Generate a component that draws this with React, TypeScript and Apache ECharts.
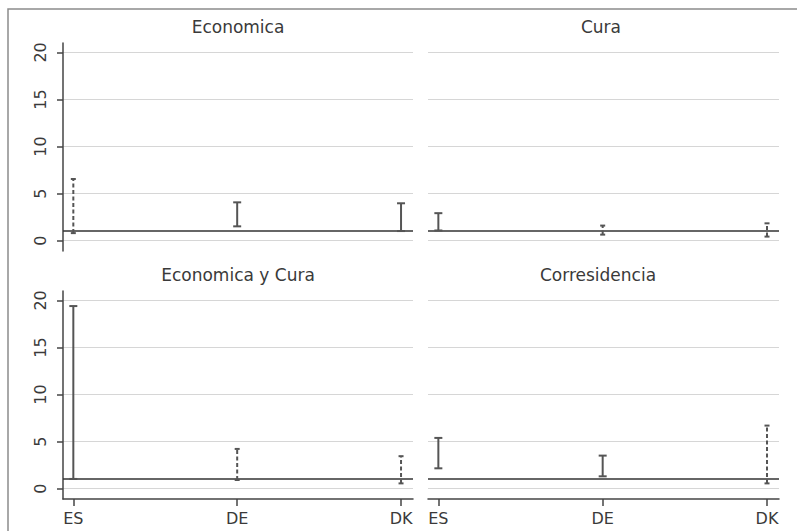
import React, { useEffect, useRef } from "react";
import * as echarts from "echarts";

// ---- data ----
const countries = ["ES", "DE", "DK"];
const yTicks = [0, 5, 10, 15, 20];
const referenceValue = 1;

const panelTitles = ["Economica", "Cura", "Economica y Cura", "Corresidencia"];

const economicaLow = [0.8, 1.52, 1.02];
const economicaHigh = [6.55, 4.07, 3.97];

const curaLow = [1.08, 0.64, 0.43];
const curaHigh = [2.92, 1.6, 1.84];

const ecoCuraLow = [1.03, 0.92, 0.56];
const ecoCuraHigh = [19.4, 4.22, 3.45];

const corrLow = [2.16, 1.31, 0.56];
const corrHigh = [5.39, 3.51, 6.7];

const panelLows = [economicaLow, curaLow, ecoCuraLow, corrLow];
const panelHighs = [economicaHigh, curaHigh, ecoCuraHigh, corrHigh];

const FONT = "DejaVu Sans";
const INK = "#3a3a3a";
const BAR = "#555555";

export default function App() {
  const ref = useRef<HTMLDivElement>(null);

  useEffect(() => {
    if (!ref.current) return;
    const chart = echarts.init(ref.current, undefined, { renderer: "svg" });

    const grids = [
      { left: 63, top: 43, width: 350, height: 208 },
      { left: 428, top: 43, width: 351, height: 208 },
      { left: 63, top: 291, width: 350, height: 208 },
      { left: 428, top: 291, width: 351, height: 208 },
    ];

    const catIdx = countries.map((_, i) => i);

    const xAxes = grids.map((_, i) => {
      const bottom = i >= 2;
      return {
        type: "value",
        gridIndex: i,
        min: -0.063,
        max: 2.073,
        show: true,
        axisLine: { show: bottom, onZero: false, lineStyle: { color: "#444", width: 1.5 } },
        axisTick: {
          show: bottom,
          customValues: catIdx,
          length: 7,
          lineStyle: { color: "#444", width: 1.5 },
        },
        axisLabel: {
          show: bottom,
          customValues: catIdx,
          formatter: (v: number) => countries[Math.round(v)] ?? "",
          color: INK,
          fontFamily: FONT,
          fontSize: 16,
          margin: 11,
        },
        splitLine: { show: false },
      };
    });

    const yAxes = grids.map((_, i) => {
      const left = i % 2 === 0;
      return {
        type: "value",
        gridIndex: i,
        min: -1.1,
        max: 21,
        axisLine: { show: left, onZero: false, lineStyle: { color: "#444", width: 1.5 } },
        axisTick: {
          show: left,
          customValues: yTicks,
          length: 6,
          lineStyle: { color: "#444", width: 1.5 },
        },
        axisLabel: {
          show: left,
          customValues: yTicks,
          rotate: 90,
          color: INK,
          fontFamily: FONT,
          fontSize: 16,
          margin: 15,
        },
        splitLine: { show: true, lineStyle: { color: "#d6d6d6", width: 1.2 } },
      };
    });

    const series = grids.map((_, i) => ({
      type: "custom",
      xAxisIndex: i,
      yAxisIndex: i,
      data: catIdx.map((c) => [c, panelLows[i][c], panelHighs[i][c]]),
      renderItem: (params: any, api: any) => {
        const x = api.value(0);
        const lo = api.value(1);
        const hi = api.value(2);
        const pLo = api.coord([x, lo]);
        const pHi = api.coord([x, hi]);
        const crosses = lo < referenceValue; // interval includes the reference
        const cap = crosses ? 2.5 : 4;
        const lw = 2;
        return {
          type: "group",
          children: [
            {
              type: "line",
              shape: { x1: pLo[0], y1: pLo[1], x2: pHi[0], y2: pHi[1] },
              style: { stroke: BAR, lineWidth: lw, lineDash: crosses ? [4, 2.5] : null },
            },
            {
              type: "line",
              shape: { x1: pHi[0] - cap, y1: pHi[1], x2: pHi[0] + cap, y2: pHi[1] },
              style: { stroke: BAR, lineWidth: lw },
            },
            {
              type: "line",
              shape: { x1: pLo[0] - cap, y1: pLo[1], x2: pLo[0] + cap, y2: pLo[1] },
              style: { stroke: BAR, lineWidth: lw },
            },
          ],
        };
      },
      markLine: {
        silent: true,
        symbol: "none",
        label: { show: false },
        lineStyle: { color: "#333", width: 1.6, type: "solid" },
        data: [{ yAxis: referenceValue }],
      },
      z: 5,
    }));

    const titleCenters = [
      [238, 27],
      [601, 27],
      [238, 275],
      [598, 275],
    ];

    chart.setOption({
      animation: false,
      backgroundColor: "#ffffff",
      grid: grids.map((g) => ({ ...g, containLabel: false, outerBoundsMode: "none" })),
      xAxis: xAxes,
      yAxis: yAxes,
      series,
      graphic: [
        {
          type: "rect",
          shape: { x: 8, y: 9, width: 900, height: 700 },
          style: { fill: "none", stroke: "#8c8c8c", lineWidth: 1.5 },
          silent: true,
        },
        ...panelTitles.map((t, i) => ({
          type: "text",
          x: titleCenters[i][0],
          y: titleCenters[i][1],
          style: {
            text: t,
            align: "center",
            verticalAlign: "middle",
            fill: INK,
            font: `17px "${FONT}"`,
          },
          silent: true,
        })),
      ],
    });

    return () => chart.dispose();
  }, []);

  return (
    <div
      ref={ref}
      style={{ position: "absolute", left: 0, top: 0, width: 797, height: 531 }}
    />
  );
}
